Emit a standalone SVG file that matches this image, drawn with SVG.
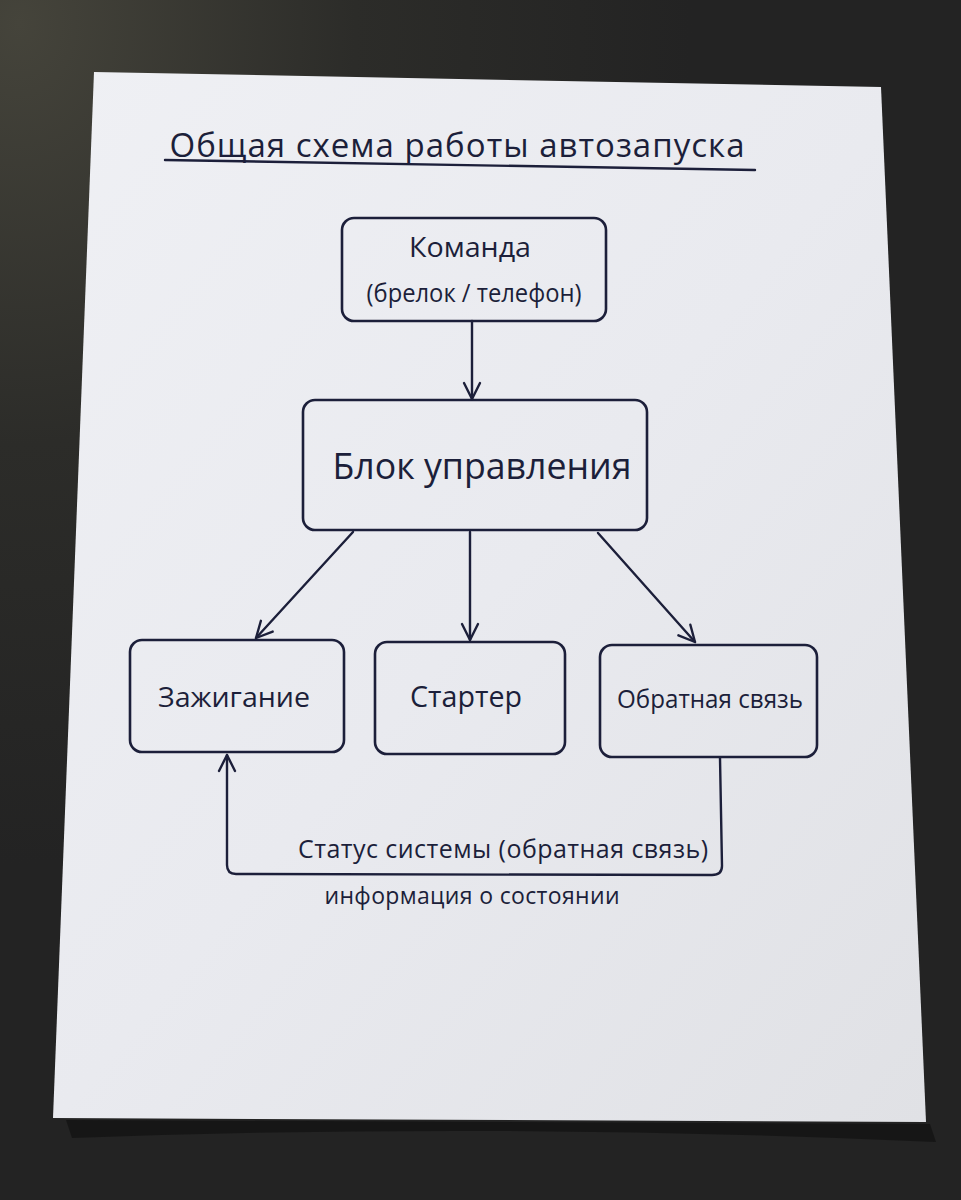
<svg xmlns="http://www.w3.org/2000/svg" width="961" height="1200" viewBox="0 0 961 1200">
<defs>
<radialGradient id="bg" cx="0.02" cy="0.02" r="0.7">
<stop offset="0" stop-color="#45443b"/>
<stop offset="0.5" stop-color="#2c2c29"/>
<stop offset="1" stop-color="#232323"/>
</radialGradient>
<linearGradient id="paper" x1="0" y1="0" x2="1" y2="1">
<stop offset="0" stop-color="#eff0f4"/>
<stop offset="0.5" stop-color="#e9eaef"/>
<stop offset="1" stop-color="#e0e1e5"/>
</linearGradient>
<marker id="ah" viewBox="0 0 20 20" refX="18" refY="10" markerWidth="20" markerHeight="20" markerUnits="userSpaceOnUse" orient="auto">
<path d="M2,2 L18,10 L2,18" fill="none" stroke="#1c1f3a" stroke-width="2.4" stroke-linecap="round" stroke-linejoin="round"/>
</marker>
<style>
.box{fill:none;stroke:#1c1f3a;stroke-width:2.6}
.ln{fill:none;stroke:#1c1f3a;stroke-width:2.4;stroke-linecap:round;stroke-linejoin:round}
.t{font-family:"Open Sans","Noto Sans",sans-serif;fill:#1c1f3a;text-anchor:middle}
</style>
</defs>
<rect width="961" height="1200" fill="url(#bg)"/>
<path d="M66,1120 L930,1124 L936,1142 Q500,1122 72,1138 Z" fill="#111" opacity="0.7"/>
<polygon points="94,72 881,87 926,1122 53,1118" fill="url(#paper)"/>
<g id="title">
<text class="t" x="457" y="157" font-size="33" textLength="575" lengthAdjust="spacing">Общая схема работы автозапуска</text>
<path class="ln" d="M165,160 L755,170"/>
</g>
<g id="node-command">
<rect class="box" x="342" y="218" width="264" height="103" rx="12"/>
<text class="t" x="470" y="257" font-size="28" textLength="122" lengthAdjust="spacingAndGlyphs">Команда</text>
<text class="t" x="474" y="302" font-size="26" textLength="215" lengthAdjust="spacingAndGlyphs">(брелок / телефон)</text>
</g>
<g id="node-control">
<rect class="box" x="303" y="400" width="344" height="130" rx="12"/>
<text class="t" x="482" y="479" font-size="36" textLength="299" lengthAdjust="spacingAndGlyphs">Блок управления</text>
</g>
<g id="node-ignition">
<rect class="box" x="130" y="640" width="214" height="112" rx="12"/>
<text class="t" x="234" y="707" font-size="28" textLength="152" lengthAdjust="spacingAndGlyphs">Зажигание</text>
</g>
<g id="node-starter">
<rect class="box" x="375" y="642" width="190" height="112" rx="12"/>
<text class="t" x="466" y="707" font-size="29" textLength="112" lengthAdjust="spacingAndGlyphs">Стартер</text>
</g>
<g id="node-feedback">
<rect class="box" x="600" y="645" width="217" height="112" rx="12"/>
<text class="t" x="710" y="708" font-size="26" textLength="186" lengthAdjust="spacingAndGlyphs">Обратная связь</text>
</g>
<g id="connectors">
<path class="ln" d="M472,321 L472,399" marker-end="url(#ah)"/>
<path class="ln" d="M353,532 L256,638" marker-end="url(#ah)"/>
<path class="ln" d="M470,532 L470,640" marker-end="url(#ah)"/>
<path class="ln" d="M598,533 L695,642" marker-end="url(#ah)"/>
<path class="ln" d="M720,758 L722,866 Q722,875 712,875 L236,874 Q227,874 227,865 L227,755" marker-end="url(#ah)"/>
<text class="t" x="503" y="858" font-size="25" textLength="410" lengthAdjust="spacing">Статус системы (обратная связь)</text>
<text class="t" x="472" y="904" font-size="23" textLength="295" lengthAdjust="spacing">информация о состоянии</text>
</g>
</svg>
